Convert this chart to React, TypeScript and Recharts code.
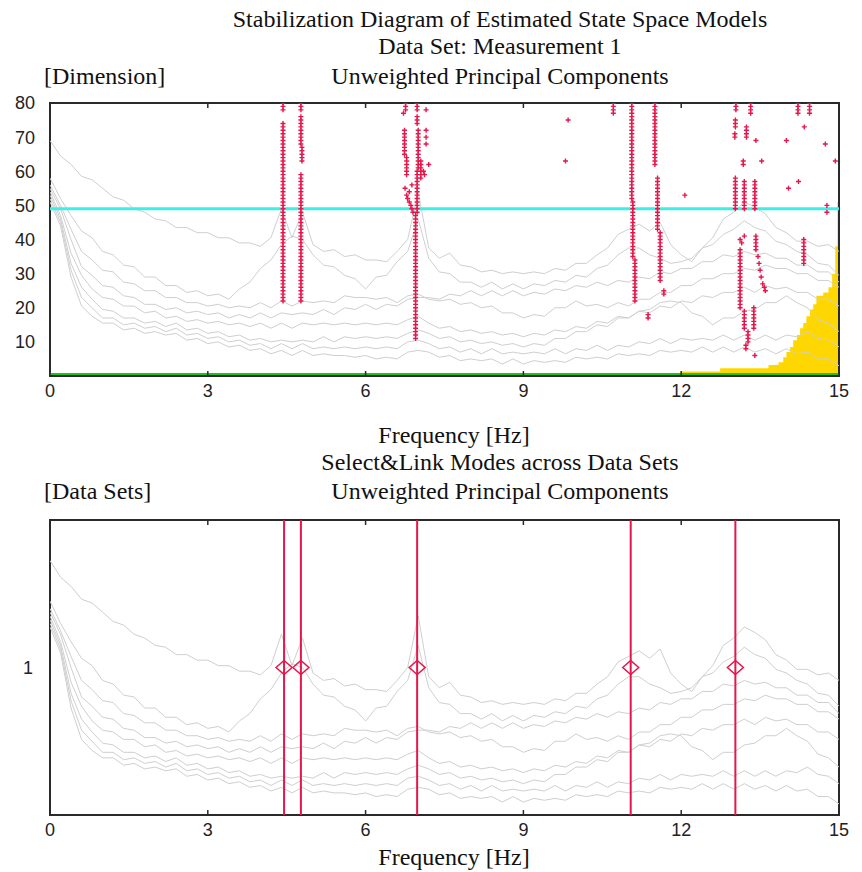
import React from 'react';
import { ComposedChart, Line, Scatter, Area, XAxis, YAxis, ReferenceLine, ReferenceArea } from 'recharts';

// frequency grid of the spectral curves [Hz]
const FREQS = [
  0, 0.2, 0.4, 0.6, 0.8, 1, 1.2, 1.4, 1.6, 1.8,
  2, 2.2, 2.4, 2.6, 2.8, 3, 3.2, 3.4, 3.6, 3.8,
  4, 4.2, 4.4, 4.6, 4.8, 5, 5.2, 5.4, 5.6, 5.8,
  6, 6.2, 6.4, 6.6, 6.8, 7, 7.2, 7.4, 7.6, 7.8,
  8, 8.2, 8.4, 8.6, 8.8, 9, 9.2, 9.4, 9.6, 9.8,
  10, 10.2, 10.4, 10.6, 10.8, 11, 11.2, 11.4, 11.6, 11.8,
  12, 12.2, 12.4, 12.6, 12.8, 13, 13.2, 13.4, 13.6, 13.8,
  14, 14.2, 14.4, 14.6, 14.8, 15,
];

// singular value spectra (drawn in dimension units)
const SPEC_A = [
  69, 64.5, 62, 58.5, 57.5, 55, 52.5, 51.5, 49, 48,
  46, 45.5, 43.5, 43.5, 42, 42, 40.5, 40.5, 39, 39,
  38, 40.5, 49, 40.5, 48, 38.5, 36.5, 37, 35, 35.5,
  34, 34, 33.5, 36.5, 40, 54, 37.5, 34.5, 36, 32.5,
  32, 30.5, 31, 30, 30.5, 30, 30.5, 30, 31.5, 31,
  33, 33, 35.5, 37.5, 41.5, 43, 44.5, 42.5, 45, 38.5,
  35.5, 33.5, 37.5, 40.5, 46, 48, 51, 49.5, 47.5, 43.5,
  42, 39.5, 39.5, 38, 38.5, 36.5,
];
const SPEC_B = [
  58, 52, 47, 42.5, 40.5, 36.5, 35.5, 32.5, 32, 29,
  29, 26.5, 26.5, 24.5, 25, 23.5, 24, 22.5, 25.5, 27.5,
  31.5, 34, 38.5, 41, 40, 35.5, 32.5, 32, 29.5, 28.5,
  25.5, 29, 29.5, 33.5, 36.5, 46, 34.5, 30.5, 30, 27.5,
  27.5, 26, 27.5, 25.5, 27, 25.5, 27, 26.5, 28, 27.5,
  29.5, 29, 31.5, 32.5, 35.5, 37.5, 37.5, 35.5, 34.5, 33,
  33.5, 34.5, 37.5, 38.5, 41.5, 43, 45.5, 43.5, 42.5, 39.5,
  38.5, 36.5, 35.5, 33, 32.5, 29.5,
];
const SPEC_C = [
  56, 50, 43, 36.5, 34, 31, 30.5, 27.5, 27, 25,
  25, 23, 23, 21.5, 21.5, 20.5, 21, 20, 20.5, 20,
  21.5, 20, 22, 20.5, 22, 21.5, 22, 21.5, 23.5, 23,
  23, 22.5, 23, 21.5, 23.5, 24, 22.5, 22, 22.5, 21,
  21.5, 20, 20.5, 18.5, 18.5, 17, 18, 17.5, 20, 20,
  22, 20.5, 21, 20, 21.5, 20.5, 22.5, 22.5, 24.5, 24.5,
  26.5, 26.5, 28.5, 28.5, 30, 30, 31.5, 31, 32.5, 31.5,
  31.5, 30, 30, 28, 28, 26,
];
const SPEC_D = [
  55, 49, 40, 32, 29.5, 26.5, 26, 23.5, 23, 21,
  21, 19.5, 20, 18.5, 19, 18, 18.5, 17, 18, 17,
  18.5, 17, 18.5, 18, 18.5, 18, 19.5, 18, 20, 19.5,
  21, 19.5, 21, 20.5, 22.5, 23, 23, 22.5, 24, 23.5,
  25, 23.5, 25, 23.5, 25, 23.5, 24.5, 24, 25.5, 25,
  26.5, 26, 27.5, 26.5, 28, 27.5, 29, 28.5, 30.5, 30,
  31.5, 31.5, 33.5, 33.5, 35.5, 35, 36.5, 35.5, 36, 34.5,
  34.5, 32.5, 32.5, 30.5, 30.5, 27.5,
];
const SPEC_E = [
  54, 47, 36, 29.5, 25.5, 23, 22.5, 20.5, 20.5, 18.5,
  19, 17, 17.5, 16, 16.5, 15.5, 16, 15, 15.5, 14.5,
  15.5, 14, 15.5, 14, 15.5, 15, 15.5, 15, 15.5, 15,
  15.5, 15, 15.5, 15, 16.5, 17.5, 15.5, 14, 14.5, 13,
  13.5, 12.5, 13, 12, 12.5, 11.5, 12.5, 12, 13.5, 13,
  14.5, 14, 16, 15.5, 17.5, 17, 19, 18.5, 20.5, 20,
  22, 21.5, 23.5, 23, 24.5, 24.5, 26, 24.5, 26.5, 25.5,
  26, 24.5, 24.5, 22.5, 22.5, 20.5,
];
const SPEC_F = [
  53, 46, 33, 26, 22.5, 19.5, 19, 17, 17, 15.5,
  16, 14.5, 15.5, 13.5, 14, 12.5, 13, 11.5, 12, 10.5,
  11, 10, 10.5, 10, 10.5, 10, 11.5, 10, 11.5, 11,
  11.5, 11, 11.5, 11, 12.5, 13.5, 12.5, 11, 11.5, 10,
  10.5, 9.5, 10, 9, 9.5, 8.5, 9.5, 9, 11, 11,
  13, 13, 15, 14.5, 17, 17, 19, 19.5, 21.5, 22,
  21.5, 18.5, 17.5, 15, 17, 17, 19, 19.5, 21.5, 21.5,
  23.5, 21.5, 20, 16.5, 15.5, 13,
];
const SPEC_G = [
  52, 45, 31, 23, 20, 17, 17, 15, 15.5, 14,
  14.5, 13, 14, 12, 12.5, 11, 11.5, 10, 10.5, 9,
  9.5, 8, 9.5, 8, 9.5, 8, 8.5, 8, 8.5, 8,
  8.5, 8, 8.5, 8, 10, 10.5, 9.5, 8, 8.5, 7,
  8, 6.5, 8, 6.5, 7, 6.5, 7, 6.5, 8, 6.5,
  8, 7.5, 9, 7.5, 9, 8.5, 10, 9.5, 11, 9.5,
  11, 10.5, 11, 10.5, 12, 10.5, 12, 10.5, 12, 10.5,
  12, 11.5, 13, 11, 10.5, 8.5,
];
const SPEC_H = [
  51, 44, 29, 20.5, 17.5, 15.5, 15.5, 13.5, 14, 12.5,
  13, 12, 12.5, 10.5, 11, 9.5, 10, 8.5, 9, 7.5,
  8, 6.5, 7.5, 6, 7.5, 6, 6.5, 6, 6, 5.5,
  6, 5, 5.5, 5, 7, 7.5, 7, 5.5, 6, 4.5,
  5, 4.5, 5, 3.5, 5, 3.5, 4.5, 4, 4.5, 4,
  5.5, 5, 5.5, 5, 6.5, 6, 6.5, 6, 7.5, 7,
  7.5, 7, 8.5, 7, 8.5, 7, 8.5, 7, 8, 6.5,
  8, 6.5, 7, 5, 5, 3,
];
const SPECTRA = [SPEC_A, SPEC_B, SPEC_C, SPEC_D, SPEC_E, SPEC_F, SPEC_G, SPEC_H];

// stable pole runs: [frequency, first dimension, last dimension]
const POLE_RUNS: [number, number, number][] = [
  [4.43, 22, 74], [4.43, 78, 80],
  [4.77, 22, 59], [4.79, 63, 67], [4.77, 68, 76], [4.77, 78, 80],
  [6.95, 11, 47], [6.98, 48, 60], [7.0, 61, 72], [6.98, 74, 76], [6.98, 78, 80],
  [7.05, 58, 63], [6.78, 59, 64], [6.74, 65, 72], [6.76, 78, 80],
  [10.71, 77, 80],
  [11.06, 52, 80], [11.08, 35, 51], [11.12, 22, 34],
  [11.5, 62, 80], [11.55, 43, 58], [11.6, 28, 42], [11.67, 24, 25], [11.37, 17, 18],
  [13.03, 49, 58], [13.03, 73, 75], [13.04, 78, 80],
  [13.2, 49, 57], [13.18, 62, 63], [13.24, 70, 73], [13.32, 77, 80],
  [13.4, 49, 57], [13.12, 20, 37], [13.2, 14, 19], [13.27, 10, 13], [13.23, 8, 9],
  [13.38, 14, 20], [13.42, 37, 41],
  [14.33, 33, 40], [14.22, 77, 80], [14.44, 77, 80],
];
// isolated poles: [frequency, dimension]
const POLE_SINGLES: [number, number][] = [
  [6.9, 48], [6.88, 49], [6.86, 50], [6.83, 51], [6.8, 52], [6.78, 53], [6.83, 54], [6.75, 55], [6.88, 56],
  [7.1, 60], [7.12, 59], [7.15, 68], [7.15, 70], [7.15, 72], [7.15, 78], [7.2, 62], [6.72, 77],
  [9.85, 75], [9.8, 63], [12.07, 53],
  [13.02, 70], [13.02, 71], [13.15, 39], [13.12, 40], [13.2, 41], [13.4, 6],
  [13.46, 35], [13.48, 33], [13.5, 31], [13.52, 29], [13.55, 27], [13.58, 26], [13.6, 25],
  [14.34, 73], [13.42, 69], [14.0, 69], [14.74, 68], [14.93, 63], [14.23, 57], [14.04, 55],
  [14.77, 50], [14.77, 48], [13.53, 63],
];

// yellow region (bottom right), step outline
const FILL_FREQ = [11.98, 12.74, 13.66, 13.85, 13.94, 14.0, 14.07, 14.13, 14.2, 14.26, 14.32, 14.38, 14.45, 14.51, 14.57, 14.7, 14.8, 14.87, 14.93, 14.97, 15];
const FILL_DIM = [1.3, 2.3, 3.2, 4, 5.5, 7, 8.5, 10.5, 12, 14, 15.5, 17.5, 19.5, 21, 23.5, 24.5, 26, 30, 38, 51, 51];

const CYAN_DIM = 49;
const LINKED_MODES = [4.45, 4.77, 6.98, 11.04, 13.03];
const FREQ_TICKS = [0, 3, 6, 9, 12, 15];
const DIM_TICKS = [10, 20, 30, 40, 50, 60, 70, 80];

const RED = '#e3174b';
const GRAY = '#cfcfcf';
const FRAME = '#2a2a2a';
const SANS = '"Liberation Sans", Arial, sans-serif';
const SERIF = '"Liberation Serif", "Times New Roman", serif';

// one data table per spectrum
const specSeries = SPECTRA.map(vals => FREQS.map((f, i) => ({ f, v: vals[i] })));

const poles: { f: number; v: number }[] = [];
POLE_RUNS.forEach(([f, d0, d1]) => {
  for (let d = d0; d <= d1; d++) poles.push({ f, v: d });
});
POLE_SINGLES.forEach(([f, d]) => poles.push({ f, v: d }));

const fillRows = FILL_FREQ.map((f, i) => ({ f, v: FILL_DIM[i] }));
const linkedRows = LINKED_MODES.map(f => ({ f, v: 1 }));

function FreqTick(props: any) {
  const { x, y, payload, plotH } = props;
  return (
    <g>
      <line x1={x} x2={x} y1={y} y2={y - 5} stroke={FRAME} strokeWidth={1.5} />
      <line x1={x} x2={x} y1={y - plotH} y2={y - plotH + 5} stroke={FRAME} strokeWidth={1.5} />
      <text x={x} y={y + 21} textAnchor="middle" fontFamily={SANS} fontSize={18} fill="#222">
        {payload.value}
      </text>
    </g>
  );
}

function PlusMark(props: any) {
  const { cx, cy } = props;
  return (
    <path d={`M${cx - 2.5},${cy}H${cx + 2.5}M${cx},${cy - 2.5}V${cy + 2.5}`} stroke={RED} strokeWidth={1.4} />
  );
}

function Diamond(props: any) {
  const { cx, cy } = props;
  return (
    <path d={`M${cx - 8},${cy}L${cx},${cy - 7}L${cx + 8},${cy}L${cx},${cy + 7}Z`} fill="none" stroke={RED} strokeWidth={1.5} />
  );
}

const yTick = { fontFamily: SANS, fontSize: 18, fill: '#222' };

function StabilizationChart() {
  return (
    <ComposedChart width={862} height={406} margin={{ top: 103, right: 23, bottom: 0, left: 0 }}>
      <XAxis dataKey="f" type="number" domain={[0, 15]} ticks={FREQ_TICKS} interval={0} height={30}
        axisLine={false} tickLine={false} tickSize={0} tickMargin={0} allowDataOverflow
        tick={(p: any) => <FreqTick {...p} plotH={273} />} />
      <YAxis type="number" domain={[0, 80]} ticks={DIM_TICKS} width={50} axisLine={false} tickLine={false}
        tickSize={0} tickMargin={15} tick={yTick} allowDataOverflow />
      <Area data={fillRows} dataKey="v" type="stepAfter" fill="#ffd700" fillOpacity={1} stroke="none" isAnimationActive={false} />
      {specSeries.map((rows, i) => (
        <Line key={i} data={rows} dataKey="v" stroke={GRAY} strokeWidth={1} dot={false} isAnimationActive={false} />
      ))}
      <ReferenceLine y={CYAN_DIM} stroke="#3cf0e8" strokeWidth={3} />
      <Scatter data={poles} dataKey="v" shape={<PlusMark />} isAnimationActive={false} />
      <ReferenceArea x1={0} x2={15} y1={0} y2={80} fill="none" stroke={FRAME} strokeWidth={2} />
      <ReferenceLine y={0} shape={(p: any) => (
        <line x1={p.x1} x2={p.x2} y1={p.y1 - 2} y2={p.y2 - 2} stroke="#1ec41e" strokeWidth={2} />
      )} />
    </ComposedChart>
  );
}

function LinkChart() {
  return (
    <ComposedChart width={862} height={365} margin={{ top: 40, right: 23, bottom: 0, left: 0 }}>
      <XAxis dataKey="f" type="number" domain={[0, 15]} ticks={FREQ_TICKS} interval={0} height={30}
        axisLine={false} tickLine={false} tickSize={0} tickMargin={0} allowDataOverflow
        tick={(p: any) => <FreqTick {...p} plotH={295} />} />
      <YAxis yAxisId="sel" type="number" domain={[0, 2]} ticks={[1]} width={50} axisLine={false} tickLine={false}
        tickSize={0} tickMargin={17} tick={yTick} />
      <YAxis yAxisId="spec" type="number" domain={[0, 80]} hide allowDataOverflow />
      {specSeries.map((rows, i) => (
        <Line key={i} yAxisId="spec" data={rows} dataKey="v" stroke={GRAY} strokeWidth={1} dot={false} isAnimationActive={false} />
      ))}
      {LINKED_MODES.map(f => (
        <ReferenceLine key={f} yAxisId="sel" x={f} stroke={RED} strokeWidth={2} />
      ))}
      <Scatter yAxisId="sel" data={linkedRows} dataKey="v" shape={<Diamond />} isAnimationActive={false} />
      <ReferenceArea yAxisId="sel" x1={0} x2={15} y1={0} y2={2} fill="none" stroke={FRAME} strokeWidth={2} />
    </ComposedChart>
  );
}

export default function App() {
  const title = { fontFamily: SERIF, fontSize: 24, fill: '#111' };
  return (
    <div style={{ position: 'absolute', left: 0, top: 0, width: 862, height: 872, background: '#fff' }}>
      <div style={{ position: 'absolute', left: 0, top: 0 }}>
        <StabilizationChart />
      </div>
      <div style={{ position: 'absolute', left: 0, top: 480 }}>
        <LinkChart />
      </div>
      <svg width={862} height={872} style={{ position: 'absolute', left: 0, top: 0, pointerEvents: 'none' }}>
        <text x={500} y={27} textAnchor="middle" {...title}>Stabilization Diagram of Estimated State Space Models</text>
        <text x={500} y={54} textAnchor="middle" {...title}>Data Set: Measurement 1</text>
        <text x={44} y={84} {...title}>[Dimension]</text>
        <text x={500} y={84} textAnchor="middle" {...title}>Unweighted Principal Components</text>
        <text x={454} y={443} textAnchor="middle" {...title}>Frequency [Hz]</text>
        <text x={500} y={470} textAnchor="middle" {...title}>Select&amp;Link Modes across Data Sets</text>
        <text x={44} y={499} {...title}>[Data Sets]</text>
        <text x={500} y={499} textAnchor="middle" {...title}>Unweighted Principal Components</text>
        <text x={454} y={865} textAnchor="middle" {...title}>Frequency [Hz]</text>
      </svg>
    </div>
  );
}
